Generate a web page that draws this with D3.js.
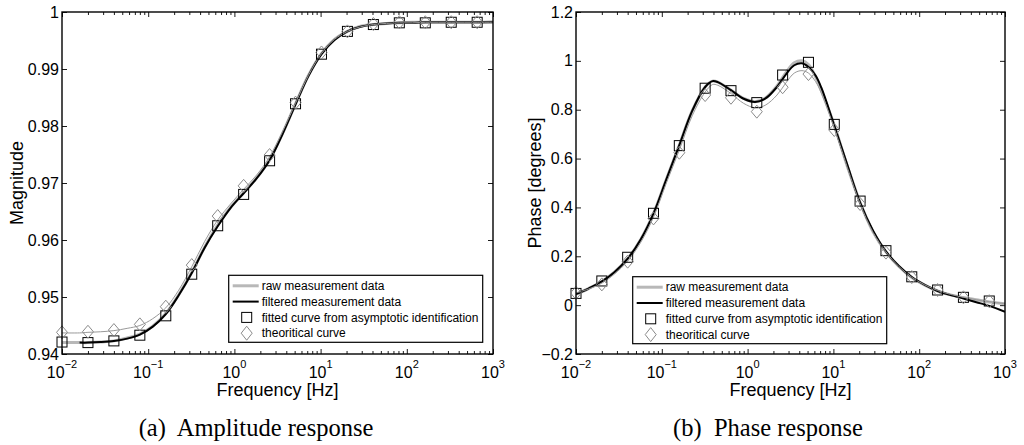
<!DOCTYPE html>
<html>
<head>
<meta charset="utf-8">
<script src="https://cdn.jsdelivr.net/npm/d3@7"></script>
<style>
body { margin: 0; background: #fff; }
svg { display: block; }
</style>
</head>
<body>
<script>
// frequencies of the square / diamond markers (Hz)
var markerFreq = [0.01, 0.02, 0.04, 0.08, 0.16, 0.32, 0.64, 1.28, 2.56, 5.12, 10.24, 20.48, 40.96, 81.92, 163.84, 327.68, 655.36];

// amplitude markers
var magFitted = [0.9421, 0.9420, 0.9423, 0.9433, 0.9467, 0.9540, 0.9625, 0.9680, 0.9739, 0.9839, 0.9926, 0.9966, 0.9978, 0.9981, 0.9981, 0.9982, 0.9982];
var magTheory = [0.9438, 0.9439, 0.9442, 0.9452, 0.9483, 0.9556, 0.9642, 0.9695, 0.9749, 0.9841, 0.9929, 0.9966, 0.9979, 0.9982, 0.9982, 0.9982, 0.9982];

// phase markers
var phaseFitted = [0.048, 0.099, 0.196, 0.376, 0.653, 0.888, 0.878, 0.829, 0.942, 0.994, 0.740, 0.426, 0.223, 0.116, 0.062, 0.032, 0.017];
var phaseTheory = [0.050, 0.085, 0.178, 0.355, 0.624, 0.860, 0.849, 0.792, 0.892, 0.946, 0.717, 0.414, 0.215, 0.115, 0.062, 0.032, 0.016];

// amplitude curves
var magCurveFreq = [0.01, 0.016, 0.02, 0.028, 0.04, 0.057, 0.08, 0.113, 0.16, 0.226, 0.32, 0.45, 0.64, 0.9, 1.28, 1.81, 2.56, 3.62, 5.12, 7.24, 10.24, 14.5, 20.48, 29, 40.96, 58, 81.92, 116, 163.84, 232, 327.68, 463, 655.36, 1000];
var magRaw = [0.9420, 0.9420, 0.9420, 0.9421, 0.9423, 0.9428, 0.9435, 0.9449, 0.9471, 0.9504, 0.9543, 0.9587, 0.9626, 0.9657, 0.9683, 0.9709, 0.9741, 0.9787, 0.9839, 0.9889, 0.9927, 0.9952, 0.9966, 0.9975, 0.9978, 0.9980, 0.9981, 0.9982, 0.9982, 0.9982, 0.9982, 0.9982, 0.9982, 0.9983];
var magFiltered = [null, 0.9420, 0.9420, 0.9421, 0.9423, 0.9427, 0.9434, 0.9448, 0.9470, 0.9503, 0.9542, 0.9586, 0.9624, 0.9656, 0.9682, 0.9708, 0.9740, 0.9786, 0.9838, 0.9888, 0.9926, 0.9951, 0.9966, 0.9974, 0.9978, 0.9980, 0.9981, 0.9981, 0.9982, 0.9982, 0.9982, 0.9982, 0.9982, 0.9982];
var magTheoryCurve = [0.9437, 0.9437, 0.9438, 0.9439, 0.9441, 0.9445, 0.9450, 0.9462, 0.9481, 0.9512, 0.9553, 0.9597, 0.9635, 0.9663, 0.9689, 0.9714, 0.9746, 0.9790, 0.9840, 0.9889, 0.9927, 0.9952, 0.9966, 0.9974, 0.9978, 0.9980, 0.9981, 0.9981, 0.9982, 0.9982, 0.9982, 0.9982, 0.9982, 0.9982];

// phase curves
var phaseCurveFreq = [0.01, 0.014, 0.02, 0.028, 0.04, 0.057, 0.08, 0.113, 0.16, 0.226, 0.32, 0.39, 0.45, 0.64, 0.9, 1.22, 1.6, 2.2, 2.8, 3.5, 4.3, 5.12, 6.2, 7.24, 10.24, 14.5, 20.48, 29, 40.96, 58, 81.92, 116, 163.84, 232, 327.68, 463, 655.36, 1000];
var phaseRaw = [0.045, 0.068, 0.097, 0.135, 0.190, 0.270, 0.375, 0.515, 0.655, 0.795, 0.893, 0.917, 0.913, 0.880, 0.846, 0.833, 0.847, 0.897, 0.952, 0.992, 1.000, 0.985, 0.935, 0.878, 0.736, 0.570, 0.420, 0.300, 0.218, 0.158, 0.113, 0.082, 0.058, 0.042, 0.031, 0.022, 0.013, 0.006];
var phaseFiltered = [0.045, 0.068, 0.097, 0.135, 0.190, 0.270, 0.375, 0.515, 0.655, 0.795, 0.893, 0.917, 0.913, 0.880, 0.845, 0.832, 0.845, 0.893, 0.945, 0.982, 0.990, 0.975, 0.940, 0.890, 0.735, 0.575, 0.420, 0.305, 0.220, 0.160, 0.115, 0.083, 0.058, 0.041, 0.027, 0.012, -0.003, -0.027];
var phaseTheoryCurve = [0.050, 0.066, 0.090, 0.127, 0.180, 0.258, 0.360, 0.500, 0.635, 0.775, 0.872, 0.903, 0.900, 0.866, 0.826, 0.808, 0.818, 0.860, 0.910, 0.950, 0.960, 0.950, 0.915, 0.868, 0.725, 0.565, 0.415, 0.298, 0.218, 0.158, 0.114, 0.083, 0.060, 0.044, 0.032, 0.022, 0.014, 0.006];

// axis ticks
var freqTicks = [0.01, 0.1, 1, 10, 100, 1000];
var magTicks = [0.94, 0.95, 0.96, 0.97, 0.98, 0.99, 1];
var phaseTicks = [-0.2, 0, 0.2, 0.4, 0.6, 0.8, 1, 1.2];

var legendLabels = ["raw measurement data", "filtered measurement data", "fitted curve from asymptotic identification", "theoritical curve"];

var W = 1024, H = 445;
var rawColor = "#b8b8b8", theoryColor = "#999", diamondColor = "#8a8a8a";

function zip(xs, ys) {
    return xs.map(function(d, i) { return [d, ys[i]]; });
}

function drawPanel(svg, p) {
    var x = d3.scaleLog().domain([0.01, 1000]).range([p.left, p.right]);
    var y = d3.scaleLinear().domain([p.ticks[0], p.ticks[p.ticks.length - 1]]).range([p.bottom, p.top]);

    var g = svg.append("g");

    svg.append("clipPath").attr("id", "clip-" + p.id)
        .append("rect")
        .attr("x", p.left).attr("y", p.top)
        .attr("width", p.right - p.left).attr("height", p.bottom - p.top);

    // minor log ticks
    var minor = x.ticks().filter(function(d) {
        var e = Math.log10(d);
        return Math.abs(e - Math.round(e)) > 1e-6;
    });

    var axes = [
        g.append("g").attr("transform", "translate(0," + p.bottom + ")").call(d3.axisBottom(x).tickValues(minor).tickSize(-3).tickFormat("")),
        g.append("g").attr("transform", "translate(0," + p.top + ")").call(d3.axisTop(x).tickValues(minor).tickSize(-3).tickFormat("")),
        g.append("g").attr("transform", "translate(0," + p.bottom + ")").call(d3.axisBottom(x).tickValues(freqTicks).tickSize(-5).tickFormat("")),
        g.append("g").attr("transform", "translate(0," + p.top + ")").call(d3.axisTop(x).tickValues(freqTicks).tickSize(-5).tickFormat("")),
        g.append("g").attr("transform", "translate(" + p.right + ",0)").call(d3.axisRight(y).tickValues(p.ticks).tickSize(-5).tickFormat("")),
        g.append("g").attr("transform", "translate(" + p.left + ",0)").call(d3.axisLeft(y).tickValues(p.ticks).tickSize(-5).tickPadding(3).tickFormat(d3.format("~g")))
    ];
    axes.forEach(function(a) {
        a.select(".domain").remove();
        a.selectAll(".tick line").attr("stroke", "#000").attr("stroke-width", 0.9);
        a.selectAll("text").attr("font-family", "Liberation Sans, Arial, sans-serif").attr("font-size", 16).attr("fill", "#000");
    });

    // x tick labels with superscript exponents
    var xl = g.append("g").attr("font-family", "Liberation Sans, Arial, sans-serif").attr("fill", "#000");
    xl.selectAll("text").data(freqTicks).enter().append("text")
        .attr("x", function(d) { return x(d); })
        .attr("y", p.bottom + 23.5)
        .attr("text-anchor", "middle")
        .each(function(d) {
            var e = Math.round(Math.log10(d));
            var t = d3.select(this);
            t.append("tspan").attr("font-size", 16).text("10");
            t.append("tspan").attr("font-size", 11).attr("dy", -9.5).text(e < 0 ? "\u2212" + (-e) : String(e));
        });

    // axis titles
    g.append("text")
        .attr("x", (p.left + p.right) / 2).attr("y", p.bottom + 42)
        .attr("text-anchor", "middle")
        .attr("font-family", "Liberation Sans, Arial, sans-serif").attr("font-size", 18)
        .text("Frequency [Hz]");
    g.append("text")
        .attr("transform", "translate(" + p.ylabelX + "," + ((p.top + p.bottom) / 2) + ") rotate(-90)")
        .attr("text-anchor", "middle")
        .attr("font-family", "Liberation Sans, Arial, sans-serif").attr("font-size", 18)
        .text(p.ylabel);

    // caption
    g.append("text")
        .attr("x", p.captionX).attr("y", 436)
        .attr("text-anchor", "middle")
        .attr("font-family", "Liberation Serif, Times New Roman, serif").attr("font-size", 24.5)
        .attr("xml:space", "preserve")
        .text(p.caption);

    // curves
    var line = d3.line()
        .defined(function(d) { return d[1] != null; })
        .x(function(d) { return x(d[0]); })
        .y(function(d) { return y(d[1]); })
        .curve(d3.curveCatmullRom.alpha(0.5));

    var plot = g.append("g").attr("clip-path", "url(#clip-" + p.id + ")");
    plot.append("path").datum(zip(p.curveFreq, p.raw))
        .attr("d", line).attr("fill", "none").attr("stroke", rawColor).attr("stroke-width", 3);
    plot.append("path").datum(zip(p.curveFreq, p.filtered))
        .attr("d", line).attr("fill", "none").attr("stroke", "#000").attr("stroke-width", 2);
    plot.append("path").datum(zip(p.curveFreq, p.theoryCurve))
        .attr("d", line).attr("fill", "none").attr("stroke", theoryColor).attr("stroke-width", 1);

    // markers
    g.append("g").selectAll("rect").data(zip(markerFreq, p.fitted)).enter().append("rect")
        .attr("x", function(d) { return x(d[0]) - 5; })
        .attr("y", function(d) { return y(d[1]) - 5; })
        .attr("width", 10).attr("height", 10)
        .attr("fill", "none").attr("stroke", "#000").attr("stroke-width", 1);
    g.append("g").selectAll("path").data(zip(markerFreq, p.theory)).enter().append("path")
        .attr("transform", function(d) { return "translate(" + x(d[0]) + "," + y(d[1]) + ")"; })
        .attr("d", "M0,-6.5L5.5,0L0,6.5L-5.5,0Z")
        .attr("fill", "none").attr("stroke", diamondColor).attr("stroke-width", 1);

    // frame
    g.append("rect")
        .attr("x", p.left).attr("y", p.top)
        .attr("width", p.right - p.left).attr("height", p.bottom - p.top)
        .attr("fill", "none").attr("stroke", "#000").attr("stroke-width", 1.4);

    // legend
    var lg = g.append("g").attr("transform", "translate(" + p.legendX + "," + p.legendY + ")");
    lg.append("rect").attr("width", 254).attr("height", 67)
        .attr("fill", "#fff").attr("stroke", "#000").attr("stroke-width", 1.2);
    var rowY = function(i) { return 10.5 + i * 15.8; };
    lg.append("line").attr("x1", 4).attr("x2", 30).attr("y1", rowY(0)).attr("y2", rowY(0))
        .attr("stroke", rawColor).attr("stroke-width", 3);
    lg.append("line").attr("x1", 4).attr("x2", 30).attr("y1", rowY(1)).attr("y2", rowY(1))
        .attr("stroke", "#000").attr("stroke-width", 2);
    lg.append("rect").attr("x", 13).attr("y", rowY(2) - 5).attr("width", 10).attr("height", 10)
        .attr("fill", "none").attr("stroke", "#000");
    lg.append("path").attr("transform", "translate(18," + rowY(3) + ")")
        .attr("d", "M0,-7L5.5,0L0,7L-5.5,0Z")
        .attr("fill", "none").attr("stroke", diamondColor);
    lg.selectAll("text.lab").data(legendLabels).enter().append("text")
        .attr("class", "lab")
        .attr("x", 33).attr("y", function(d, i) { return rowY(i); })
        .attr("dy", "0.35em")
        .attr("font-family", "Liberation Sans, Arial, sans-serif").attr("font-size", 12)
        .text(function(d) { return d; });
}

function init() {
    var svg = d3.select("body").append("svg")
        .attr("width", W).attr("height", H);

    drawPanel(svg, {
        id: "mag", left: 62, right: 493, top: 12, bottom: 354,
        ticks: magTicks, ylabel: "Magnitude", ylabelX: 23,
        caption: "(a)  Amplitude response", captionX: 256,
        curveFreq: magCurveFreq, raw: magRaw, filtered: magFiltered, theoryCurve: magTheoryCurve,
        fitted: magFitted, theory: magTheory,
        legendX: 228.7, legendY: 275.3
    });

    drawPanel(svg, {
        id: "phase", left: 576, right: 1005, top: 12, bottom: 354,
        ticks: phaseTicks, ylabel: "Phase [degrees]", ylabelX: 541,
        caption: "(b)  Phase response", captionX: 768,
        curveFreq: phaseCurveFreq, raw: phaseRaw, filtered: phaseFiltered, theoryCurve: phaseTheoryCurve,
        fitted: phaseFitted, theory: phaseTheory,
        legendX: 632.7, legendY: 276.7
    });
}

window.onload = init;
</script>
</body>
</html>
